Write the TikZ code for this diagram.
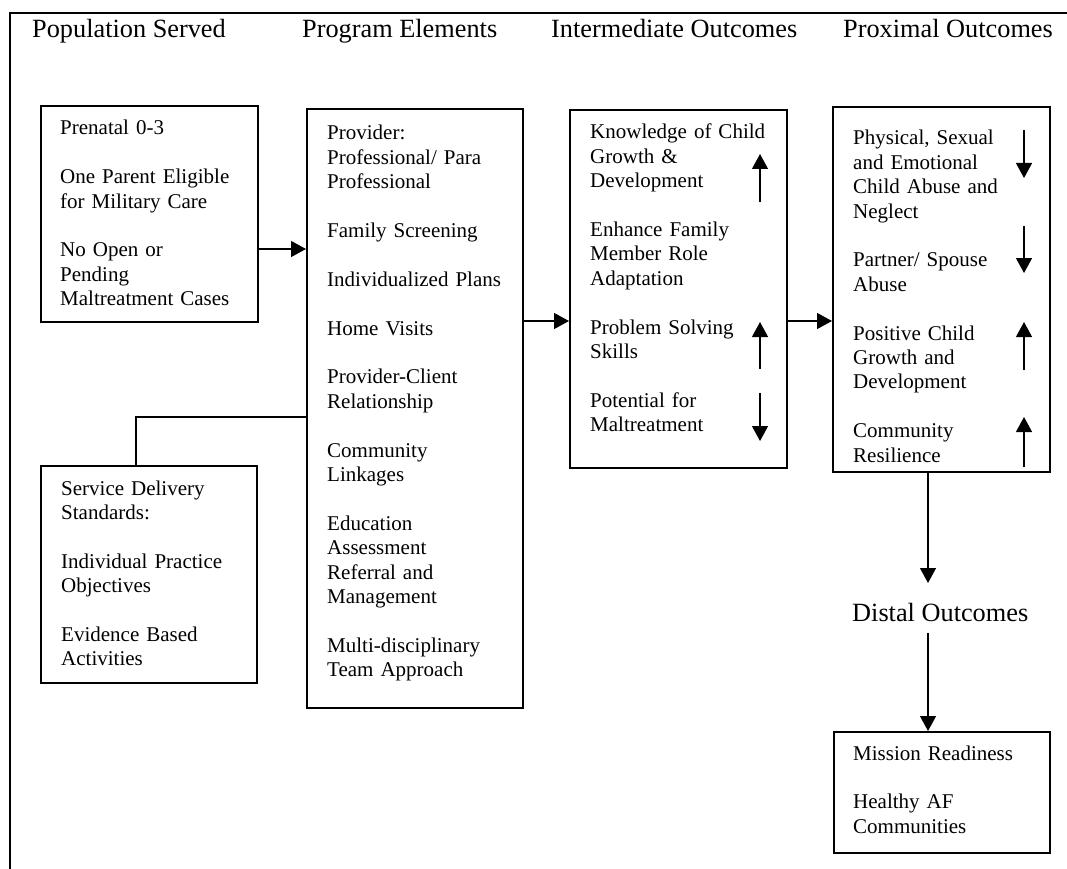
\documentclass[tikz,border=0pt]{standalone}
\usepackage{fontspec}
\setmainfont{Liberation Serif}
\usetikzlibrary{arrows.meta}
\frenchspacing
\begin{document}
\begin{tikzpicture}[x=1pt,y=-1pt,
  box/.style={draw, line width=1.6pt, anchor=north west, inner sep=0pt},
  txt/.style={anchor=base west, inner sep=0pt, text width=205pt, align=left,
    font=\fontsize{21}{24.4}\selectfont},
  head/.style={anchor=base west, inner sep=0pt, font=\fontsize{26.3}{30}\selectfont},
  conn/.style={line width=1.3pt},
  arr/.style={line width=1.3pt, -{Triangle[width=16pt,length=15pt]}},
  frame/.style={line width=2.5pt}]
\useasboundingbox (0,0) rectangle (1067,869);
% outer frame
\draw[frame] (1067,13) -- (10,13) -- (10,869);
% headers
\node[head] (h1) at (32,38) {Population Served};
\node[head] (h2) at (302,38) {Program Elements};
\node[head] (h3) at (551,38) {Intermediate Outcomes};
\node[head] (h4) at (843,38) {Proximal Outcomes};
% boxes
\node[box, minimum width=217pt, minimum height=216pt] (pop) at (40,105) {};
\node[box, minimum width=216pt, minimum height=599pt] (prog) at (306,108) {};
\node[box, minimum width=217pt, minimum height=358pt] (inter) at (569,109) {};
\node[box, minimum width=217pt, minimum height=365pt] (prox) at (832,106) {};
\node[box, minimum width=216pt, minimum height=217pt] (serv) at (40,465) {};
\node[box, minimum width=216pt, minimum height=121pt] (miss) at (833,731) {};
% texts
\node[txt] (popt) at (60,135) {Prenatal 0-3\\[24.4pt]One Parent Eligible\\for Military Care\\[24.4pt]No Open or\\Pending\\Maltreatment Cases};
\node[txt] (progt) at (327,140) {Provider:\\Professional/ Para\\Professional\\[24.4pt]Family Screening\\[24.4pt]Individualized Plans\\[24.4pt]Home Visits\\[24.4pt]Provider-Client\\Relationship\\[24.4pt]Community\\Linkages\\[24.4pt]Education\\Assessment\\Referral and\\Management\\[24.4pt]Multi-disciplinary\\Team Approach};
\node[txt] (intert) at (590,139) {Knowledge of Child\\Growth \&\\Development\\[24.4pt]Enhance Family\\Member Role\\Adaptation\\[24.4pt]Problem Solving\\Skills\\[24.4pt]Potential for\\Maltreatment};
\node[txt] (proxt) at (853,145) {Physical, Sexual\\and Emotional\\Child Abuse and\\Neglect\\[24.4pt]Partner/ Spouse\\Abuse\\[24.4pt]Positive Child\\Growth and\\Development\\[24.4pt]Community\\Resilience};
\node[txt] (servt) at (61,495) {Service Delivery\\Standards:\\[24.4pt]Individual Practice\\Objectives\\[24.4pt]Evidence Based\\Activities};
\node[txt] (misst) at (853,760) {Mission Readiness\\[24.4pt]Healthy AF\\Communities};
\node[head] (distal) at (852,621) {Distal Outcomes};
% trend arrows inside boxes
\draw[arr] (760,202) -- (760,154);
\draw[arr] (760,369) -- (760,322);
\draw[arr] (760,393) -- (760,441);
\draw[arr] (1024,130) -- (1024,178);
\draw[arr] (1024,226) -- (1024,273);
\draw[arr] (1024,370) -- (1024,322);
\draw[arr] (1024,467) -- (1024,417);
% connectors
\coordinate (a1) at (0,249);
\draw[arr] (a1 -| pop.east) -- (a1 -| prog.west);
\coordinate (a2) at (0,321);
\draw[arr] (a2 -| prog.east) -- (a2 -| inter.west);
\draw[arr] (a2 -| inter.east) -- (a2 -| prox.west);
\coordinate (sj) at (136,417);
\draw[conn] (sj |- serv.north) -- (sj) -- (sj -| prog.west);
\coordinate (d1) at (928,583);
\coordinate (d2) at (928,633);
\draw[arr] (d1 |- prox.south) -- (d1);
\draw[arr] (d2) -- (d2 |- miss.north);
\end{tikzpicture}
\end{document}
